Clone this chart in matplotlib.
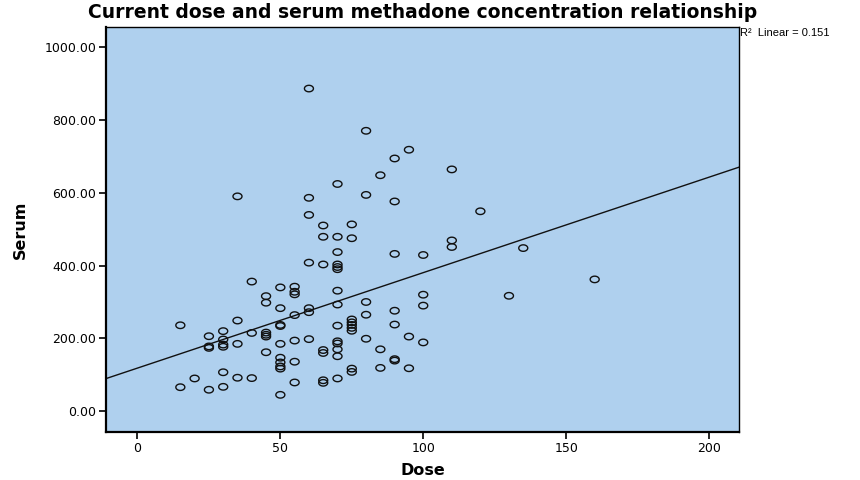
import matplotlib
matplotlib.use("Agg")
from matplotlib import pyplot as plt
from matplotlib.path import Path
from matplotlib.ticker import FormatStrFormatter
import numpy as np

plt.rcParams['font.family'] = ['DejaVu Sans']

# Dose / serum pairs
dose = [60, 80, 95, 90, 110, 85, 70, 80, 35, 60, 90, 120, 60, 75, 65,
        65, 70, 75, 110, 110, 135, 70, 90, 100, 60, 65, 70, 70, 70,
        160, 40, 50, 55, 55, 55, 70, 100, 130, 45, 45, 80, 70, 100, 50, 60,
        60, 90, 80, 55, 35, 15, 50, 50, 70, 90,
        75, 75, 75, 75, 75,
        30, 40, 45, 45, 45, 25, 95,
        30, 80, 60, 55, 70, 70, 100, 25, 25, 30, 30, 35, 50,
        70, 85, 65, 65, 45, 70, 50, 50, 50, 50, 55, 90, 90, 85, 95, 75, 75,
        30, 20, 35, 40, 70, 65, 65, 55, 15, 30, 25, 50]
serum = [886, 770, 718, 694, 664, 648, 624, 594, 590, 586, 576, 549, 539, 513, 510,
         479, 479, 475, 469, 451, 448, 437, 432, 429, 408, 403, 403, 396, 390,
         362, 356, 340, 342, 328, 321, 331, 320, 317, 316, 298, 300, 293, 290, 283, 283,
         272, 276, 265, 264, 249, 236, 237, 234, 235, 238,
         252, 244, 237, 229, 221,
         220, 215, 216, 210, 205, 206, 205,
         197, 199, 198, 194, 192, 186, 189, 178, 174, 183, 177, 185, 185,
         170, 170, 168, 160, 162, 151, 147, 134, 123, 117, 136, 143, 139, 119, 118, 117, 108,
         107, 90, 92, 91, 90, 85, 78, 79, 66, 67, 59, 45]

r2_text = "R\u00b2  Linear = 0.151"
x_ticks = [0, 50, 100, 150, 200]
y_ticks = [0, 200, 400, 600, 800, 1000]

x = np.array(dose, dtype=float)
y = np.array(serum, dtype=float)

# slightly flattened open circle, like the SPSS marker
t = np.linspace(0, 2 * np.pi, 40)
ellipse = Path(np.column_stack([np.cos(t), 0.72 * np.sin(t)]), closed=True)

fig = plt.figure(figsize=(8.6, 4.8), dpi=100)
ax = fig.add_axes([0.1233, 0.1, 0.736, 0.84375])
ax.set_facecolor('#AFD0EE')

ax.scatter(x, y, s=42, marker=ellipse, facecolors='none',
           edgecolors='#111111', linewidths=1.0, zorder=3)

xlim = (-11, 210.5)
slope, inter = np.polyfit(x, y, 1)
xs = np.array(xlim)
ax.plot(xs, inter + slope * xs, color='#111111', lw=1.0, zorder=2)

ax.set_xlim(xlim)
ax.set_ylim(-57, 1055)
ax.set_xticks(x_ticks)
ax.set_yticks(y_ticks)
ax.yaxis.set_major_formatter(FormatStrFormatter('%.2f'))
ax.tick_params(axis='both', direction='out', length=5, width=1.2,
               labelsize=9, colors='black', pad=2)

for side in ['left', 'bottom']:
    ax.spines[side].set_linewidth(1.6)
for side in ['top', 'right']:
    ax.spines[side].set_linewidth(1.0)

ax.set_xlabel('Dose', fontsize=11.5, fontweight='bold', labelpad=6)
ax.set_ylabel('Serum', fontsize=11.5, fontweight='bold', labelpad=12)

fig.text(0.4913, 0.973, 'Current dose and serum methadone concentration relationship',
         ha='center', va='center', fontsize=13.5, fontweight='bold')
fig.text(0.861, 0.932, r2_text, ha='left', va='center', fontsize=8,
         family=['Liberation Sans', 'DejaVu Sans'])

fig.savefig('out.png', dpi=100)
